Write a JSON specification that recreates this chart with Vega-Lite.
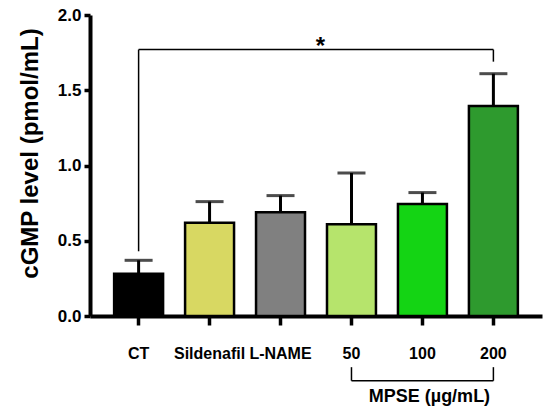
{
  "$schema": "https://vega.github.io/schema/vega-lite/v6.json",
  "width": 452,
  "height": 301,
  "autosize": "none",
  "padding": {"left": 90, "top": 15, "right": 8, "bottom": 97},
  "background": "white",
  "config": {
    "view": {"stroke": null},
    "font": "Liberation Sans",
    "axis": {
      "grid": false,
      "domainColor": "black",
      "domainWidth": 4,
      "tickColor": "black",
      "tickWidth": 3.5,
      "labelColor": "black",
      "titleColor": "black",
      "labelFont": "Liberation Sans",
      "labelFontWeight": "bold",
      "titleFont": "Liberation Sans",
      "titleFontWeight": "bold"
    },
    "axisX": {"labelFontSize": 16, "labelPadding": 20, "tickSize": 9, "labelAngle": 0},
    "axisY": {"labelFontSize": 17, "labelPadding": 3, "tickSize": 6, "titleFontSize": 24, "titlePadding": 15, "titleY": 138}
  },
  "datasets": {
    "groups": [
      {"group": "CT", "mean": 0.28, "upper": 0.37},
      {"group": "Sildenafil", "mean": 0.62, "upper": 0.76},
      {"group": "L-NAME", "mean": 0.69, "upper": 0.8},
      {"group": "50", "mean": 0.61, "upper": 0.95},
      {"group": "100", "mean": 0.745, "upper": 0.82},
      {"group": "200", "mean": 1.395, "upper": 1.61}
    ],
    "sigbar": [
      {"from": "CT", "to": "200", "y": 1.77, "leftLow": 0.43, "rightLow": 1.69, "label": "*", "labelAt": "L-NAME"}
    ],
    "mpse": [
      {"from": "50", "to": "200", "top": -0.34, "bottom": -0.43, "labelAt": "100", "labelY": -0.54, "label": "MPSE (µg/mL)"}
    ]
  },
  "encoding": {
    "x": {
      "field": "group",
      "type": "nominal",
      "scale": {"domain": ["CT", "Sildenafil", "L-NAME", "50", "100", "200"], "paddingInner": 0.31, "paddingOuter": 0.34},
      "axis": {"title": null, "domainWidth": 4}
    }
  },
  "layer": [
    {
      "data": {"name": "groups"},
      "mark": {"type": "bar", "stroke": "black", "strokeWidth": 2.5, "opacity": 1},
      "encoding": {
        "y": {
          "field": "mean",
          "type": "quantitative",
          "scale": {"domain": [0, 2]},
          "axis": {"title": "cGMP level (pmol/mL)", "values": [0, 0.5, 1, 1.5, 2], "format": ".1f", "domainWidth": 4}
        },
        "color": {
          "field": "group",
          "type": "nominal",
          "legend": null,
          "scale": {
            "domain": ["CT", "Sildenafil", "L-NAME", "50", "100", "200"],
            "range": ["#000000", "#d8d862", "#808080", "#b6e46c", "#14d414", "#2e9a2e"]
          }
        }
      }
    },
    {
      "data": {"name": "groups"},
      "mark": {"type": "rule", "strokeWidth": 3, "color": "black"},
      "encoding": {
        "y": {"field": "mean", "type": "quantitative"},
        "y2": {"field": "upper"}
      }
    },
    {
      "data": {"name": "groups"},
      "mark": {"type": "tick", "thickness": 3, "size": 28, "color": "black"},
      "encoding": {
        "y": {"field": "upper", "type": "quantitative"}
      }
    },
    {
      "data": {"name": "sigbar"},
      "mark": {"type": "rule", "strokeWidth": 1.5, "color": "black"},
      "encoding": {
        "x": {"field": "from", "type": "nominal", "bandPosition": 0.5},
        "x2": {"field": "to", "bandPosition": 0.5},
        "y": {"field": "y", "type": "quantitative"}
      }
    },
    {
      "data": {"name": "sigbar"},
      "mark": {"type": "rule", "strokeWidth": 1.5, "color": "black"},
      "encoding": {
        "x": {"field": "from", "type": "nominal", "bandPosition": 0.5},
        "y": {"field": "leftLow", "type": "quantitative"},
        "y2": {"field": "y"}
      }
    },
    {
      "data": {"name": "sigbar"},
      "mark": {"type": "rule", "strokeWidth": 1.5, "color": "black"},
      "encoding": {
        "x": {"field": "to", "type": "nominal", "bandPosition": 0.5},
        "y": {"field": "rightLow", "type": "quantitative"},
        "y2": {"field": "y"}
      }
    },
    {
      "data": {"name": "sigbar"},
      "mark": {"type": "text", "fontSize": 24, "fontWeight": "bold", "baseline": "middle", "dx": 40, "dy": -3},
      "encoding": {
        "x": {"field": "labelAt", "type": "nominal", "bandPosition": 0.5},
        "y": {"field": "y", "type": "quantitative"},
        "text": {"field": "label"}
      }
    },
    {
      "data": {"name": "mpse"},
      "mark": {"type": "rule", "strokeWidth": 1.5, "color": "black"},
      "encoding": {
        "x": {"field": "from", "type": "nominal", "bandPosition": 0.5},
        "x2": {"field": "to", "bandPosition": 0.5},
        "y": {"field": "bottom", "type": "quantitative"}
      }
    },
    {
      "data": {"name": "mpse"},
      "mark": {"type": "rule", "strokeWidth": 1.5, "color": "black"},
      "encoding": {
        "x": {"field": "from", "type": "nominal", "bandPosition": 0.5},
        "y": {"field": "top", "type": "quantitative"},
        "y2": {"field": "bottom"}
      }
    },
    {
      "data": {"name": "mpse"},
      "mark": {"type": "rule", "strokeWidth": 1.5, "color": "black"},
      "encoding": {
        "x": {"field": "to", "type": "nominal", "bandPosition": 0.5},
        "y": {"field": "top", "type": "quantitative"},
        "y2": {"field": "bottom"}
      }
    },
    {
      "data": {"name": "mpse"},
      "mark": {"type": "text", "fontSize": 18, "fontWeight": "bold", "baseline": "middle", "dx": 7},
      "encoding": {
        "x": {"field": "labelAt", "type": "nominal", "bandPosition": 0.5},
        "y": {"field": "labelY", "type": "quantitative"},
        "text": {"field": "label"}
      }
    }
  ]
}
